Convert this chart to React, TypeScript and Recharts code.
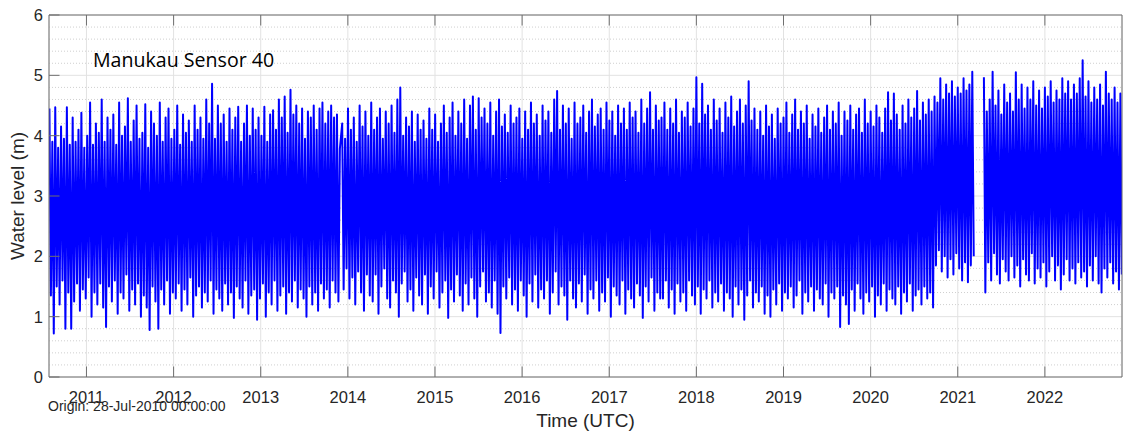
import React from 'react';
import { LineChart, Line, XAxis, YAxis, CartesianGrid } from 'recharts';

// time axis in decimal years, origin 28-Jul-2010
const T_START = 2010.57;
const T_END = 2022.885;
const STEP = 1 / 30; // one high + one low per step

const yearTicks = [2011, 2012, 2013, 2014, 2015, 2016, 2017, 2018, 2019, 2020, 2021, 2022];
const levelTicks = [0, 1, 2, 3, 4, 5, 6];
const minorLevels = [
  0.2, 0.4, 0.6, 0.8, 1.2, 1.4, 1.6, 1.8, 2.2, 2.4, 2.6, 2.8,
  3.2, 3.4, 3.6, 3.8, 4.2, 4.4, 4.6, 4.8, 5.2, 5.4, 5.6, 5.8,
];

// segment A: Jul 2010 -> gap late 2013
const startA = 2010.575;
const highsA = [
  4.45, 3.9, 4.47, 3.8, 4.15, 3.95, 4.47, 3.85, 4.3, 3.9,
  4.1, 4.38, 3.8, 4.0, 4.55, 3.85, 4.2, 4.05, 4.6, 3.9,
  4.3, 4.1, 4.35, 3.85, 4.55, 4.0, 4.15, 4.62, 3.9, 4.25,
  4.5, 3.95, 4.05, 4.52, 3.8, 4.4, 4.2, 4.0, 4.55, 3.9,
  4.3, 4.45, 3.95, 4.1, 4.5, 3.85, 4.35, 4.05, 4.25, 3.9,
  4.5, 4.1, 4.3, 3.95, 4.6, 4.2, 4.86, 3.95, 4.5, 4.2,
  4.35, 3.9, 4.45, 4.1, 4.3, 4.48, 3.9, 4.2, 4.5, 4.0,
  4.45, 4.1, 4.3, 4.0, 4.48, 3.9, 4.35, 4.42, 4.1, 4.6,
  4.3, 4.65, 4.05, 4.76, 4.35, 4.5, 4.2, 4.45, 3.95, 4.4,
  4.3, 4.5, 4.1, 4.45, 4.55, 4.2, 4.4, 4.5, 4.3, 4.35, 3.78,
];
const lowsA = [
  1.35, 0.72, 1.5, 1.2, 1.6, 0.8, 1.4, 0.8, 1.25, 1.55,
  1.1, 1.45, 1.3, 1.65, 1.0, 1.4, 1.2, 1.55, 1.15, 0.83,
  1.5, 1.25, 1.6, 1.05, 1.4, 1.3, 1.7, 1.1, 1.45, 1.2,
  1.55, 1.0, 1.35, 1.15, 0.78, 1.5, 1.25, 0.8, 1.45, 1.2,
  1.6, 1.05, 1.4, 1.3, 1.55, 1.1, 1.45, 1.2, 1.65, 1.0,
  1.35, 1.5, 1.15, 1.4, 1.25, 1.6, 1.05, 1.45, 1.3, 1.1,
  1.55, 1.2, 1.4, 0.98, 1.5, 1.3, 1.15, 1.6, 1.05, 1.35,
  1.45, 0.95, 1.3, 1.55, 1.0, 1.4, 1.2, 1.6, 1.1, 1.35,
  1.5, 1.05, 1.4, 1.25, 1.6, 1.15, 1.45, 1.3, 1.0, 1.5,
  1.2, 1.4, 1.1, 1.55, 1.3, 1.45, 1.15, 1.6, 1.4, 1.25,
];

// segment B1: late 2013 -> mid 2017
const startB1 = 2013.935;
const highsB1 = [
  4.2, 3.95, 4.45, 4.1, 4.3, 3.9, 4.5, 4.15, 4.4, 4.0,
  4.55, 4.1, 4.3, 4.45, 3.95, 4.4, 4.2, 4.5, 4.05, 4.6,
  4.8, 4.0, 4.3, 4.15, 4.4, 3.9, 4.35, 4.1, 4.25, 3.95,
  4.45, 4.1, 4.35, 3.9, 4.2, 4.5, 4.05, 4.3, 4.55, 4.0,
  4.4, 4.2, 4.6, 3.95, 4.5, 4.65, 4.1, 4.62, 4.3, 4.45,
  4.2, 4.55, 4.0, 4.4, 4.6, 4.15, 4.35, 4.05, 4.5, 4.2,
  4.3, 4.45, 3.95, 4.4, 4.1, 4.55, 4.2, 4.35, 4.0, 4.5,
  4.25, 4.4, 4.05, 4.6, 4.74, 4.1, 4.5, 4.2, 4.45, 3.95,
  4.55, 4.2, 4.3, 4.5, 4.05, 4.4, 4.6, 4.15, 4.35, 4.45,
  4.1, 4.55, 4.25, 4.4, 4.0, 4.5, 4.2, 4.45, 4.1, 4.55,
  4.3, 4.4, 4.05, 4.6, 4.2, 4.45, 4.72, 4.1, 4.5, 4.25,
];
const lowsB1 = [
  1.45, 1.8, 1.3, 1.65, 1.2, 1.75, 1.4, 1.1, 1.7, 1.35,
  1.25, 1.7, 1.05, 1.5, 1.8, 1.3, 1.15, 1.6, 1.4, 1.0,
  1.55, 1.75, 1.25, 1.45, 1.1, 1.65, 1.35, 1.2, 1.7, 1.05,
  1.5, 1.3, 1.75, 1.15, 1.4, 1.6, 0.98, 1.45, 1.25, 1.7,
  1.35, 1.1, 1.55, 1.2, 1.65, 1.3, 1.0, 1.5, 1.75, 1.25,
  1.4, 1.15, 1.6, 1.05, 0.73, 1.5, 1.3, 1.65, 1.2, 1.45,
  1.1, 1.6, 1.35, 1.0, 1.55, 1.25, 1.7, 1.15, 1.45, 1.3,
  1.6, 1.05, 1.4, 1.75, 1.2, 1.5, 1.35, 0.95, 1.6, 1.3,
  1.15, 1.55, 1.25, 1.7, 1.05, 1.45, 1.3, 1.6, 1.1, 1.4,
  1.25, 1.65, 1.0, 1.5, 1.35, 1.2, 1.6, 1.05, 1.45, 1.3,
  1.15, 1.55, 1.35, 0.98, 1.5, 1.25, 1.65, 1.1, 1.4, 1.3,
];

// segment B2: mid 2017 -> gap early 2021 (level shift from late 2020)
const startB2 = 2017.6;
const highsB2 = [
  4.3, 4.55, 4.1, 4.45, 4.2, 4.6, 4.05, 4.4, 4.3, 4.55,
  4.15, 4.45, 4.97, 4.2, 4.86, 4.35, 4.5, 4.1, 4.6, 4.25,
  4.45, 4.05, 4.55, 4.3, 4.65, 4.15, 4.4, 4.6, 4.2, 4.5,
  4.9, 4.25, 4.45, 4.1, 4.4, 4.0, 4.5, 4.15, 4.35, 3.95,
  4.45, 4.2, 4.3, 4.55, 4.05, 4.35, 4.6, 4.1, 4.4, 4.2,
  4.5, 3.95, 4.35, 4.15, 4.45, 4.05, 4.3, 4.5, 4.1, 4.4,
  4.2, 4.55, 4.0, 4.4, 4.25, 4.5, 4.1, 4.35, 4.45, 4.05,
  4.6, 4.2, 4.4, 4.15, 4.5, 4.3, 4.05, 4.45, 4.72, 4.25,
  4.7, 4.35, 4.1, 4.5, 4.2, 4.6, 4.3, 4.45, 4.74, 4.25,
  4.55, 4.35, 4.6, 4.4, 4.65, 4.55, 4.95, 4.6, 4.85, 4.7,
  4.9, 4.65, 4.8, 4.7, 4.95, 4.75, 4.85, 5.06,
];
const lowsB2 = [
  1.3, 1.6, 1.15, 1.45, 1.05, 1.55, 1.25, 1.4, 1.1, 1.6,
  1.35, 1.2, 1.5, 1.05, 1.45, 1.3, 1.6, 1.15, 1.4, 1.25,
  1.55, 1.1, 1.4, 1.3, 1.0, 1.5, 1.2, 1.45, 0.95, 1.35,
  1.6, 1.15, 1.4, 1.25, 1.5, 1.05, 1.35, 1.0, 1.45, 1.2,
  1.55, 1.1, 1.4, 1.3, 1.5, 1.15, 1.35, 1.6, 1.05, 1.4,
  1.25, 1.5, 1.1, 1.45, 1.3, 1.2, 1.55, 1.0, 1.4, 1.3,
  1.5, 0.83, 1.35, 1.2, 0.88, 1.45, 1.1, 1.55, 1.3, 1.05,
  1.4, 1.25, 1.5, 1.0, 1.35, 1.2, 1.55, 1.1, 1.45, 1.3,
  1.2, 1.5, 1.05, 1.4, 1.25, 1.55, 1.1, 1.35, 1.45, 1.2,
  1.5, 1.3, 1.4, 1.15, 1.85, 2.1, 1.75, 2.0, 1.65, 1.95,
  1.7, 2.05, 1.8, 1.6, 1.9, 1.57, 1.85, 2.0,
];

// gap in the record, early 2021
const gapTime = 2021.24;

// segment C: 2021 -> end
const startC = 2021.3;
const highsC = [
  4.97, 4.4, 4.6, 5.06, 4.5, 4.75, 4.35, 4.85, 4.55, 4.7,
  4.4, 5.05, 4.6, 4.85, 4.45, 4.8, 4.6, 4.9, 4.5, 4.75,
  4.45, 4.8, 4.65, 4.9, 4.55, 4.75, 4.6, 4.95, 4.7, 4.9,
  4.6, 4.85, 4.7, 4.95, 5.25, 4.65, 4.9, 4.55, 4.8, 4.6,
  4.85, 4.5, 5.06, 4.7, 4.6, 4.8, 4.55, 4.7,
];
const lowsC = [
  1.4, 1.9, 1.6, 2.05, 1.7, 1.55, 1.95, 1.75, 1.6, 2.0,
  1.65, 1.85, 1.5, 1.95, 1.7, 1.6, 2.05, 1.55, 1.8, 1.65,
  1.9, 1.5, 1.75, 2.0, 1.6, 1.85, 1.45, 1.7, 1.95, 1.6,
  1.8, 1.55, 1.9, 1.65, 1.75, 1.5, 1.85, 1.6, 2.0, 1.55,
  1.4, 1.8, 1.65, 1.9, 1.55, 1.75, 1.45, 1.7,
];

const buildSegment = (start: number, highs: number[], lows: number[]) => {
  const pts: { t: number; level: number | null }[] = [];
  highs.forEach((h, i) => {
    pts.push({ t: start + i * STEP, level: h });
    if (i < lows.length) pts.push({ t: start + (i + 0.5) * STEP, level: lows[i] });
  });
  return pts;
};

const data = [
  ...buildSegment(startA, highsA, lowsA),
  ...buildSegment(startB1, highsB1, lowsB1),
  ...buildSegment(startB2, highsB2, lowsB2),
  { t: gapTime, level: null },
  ...buildSegment(startC, highsC, lowsC),
];

const W = 1123;
const H = 432;
const AXIS_COLOR = '#6f6f6f';
const TEXT_COLOR = '#262626';
const FONT = '"Liberation Sans", Arial, Helvetica, sans-serif';
const TICK_LEN = 10.5;

const BottomTick = (props: any) => {
  const { x, y, payload } = props;
  return (
    <g>
      <line x1={x} y1={y} x2={x} y2={y - TICK_LEN} stroke={AXIS_COLOR} />
      <text x={x} y={y + 26} textAnchor="middle" fontSize={16.5} fontFamily={FONT} fill={TEXT_COLOR}>
        {payload.value}
      </text>
    </g>
  );
};

const TopTick = (props: any) => {
  const { x, y } = props;
  return <line x1={x} y1={y} x2={x} y2={y + TICK_LEN} stroke={AXIS_COLOR} />;
};

const LeftTick = (props: any) => {
  const { x, y, payload } = props;
  return (
    <g>
      <line x1={x} y1={y} x2={x + TICK_LEN} y2={y} stroke={AXIS_COLOR} />
      <text x={x - 6} y={y + 6} textAnchor="end" fontSize={16.5} fontFamily={FONT} fill={TEXT_COLOR}>
        {payload.value}
      </text>
    </g>
  );
};

const RightTick = (props: any) => {
  const { x, y } = props;
  return <line x1={x} y1={y} x2={x - TICK_LEN} y2={y} stroke={AXIS_COLOR} />;
};

export default function App() {
  return (
    <div style={{ position: 'relative', width: W, height: H, background: '#fff' }}>
      <style>{`body { margin: 0; }`}</style>
      <LineChart width={W} height={H} data={data} margin={{ top: 14, right: 0, bottom: 25, left: 0 }}>
        <CartesianGrid
          horizontalValues={minorLevels}
          vertical={false}
          stroke="#cfcfcf"
          strokeDasharray="1 2"
        />
        <CartesianGrid stroke="#e2e2e2" />
        <XAxis
          dataKey="t"
          type="number"
          scale="linear"
          domain={[T_START, T_END]}
          allowDataOverflow
          ticks={yearTicks}
          interval={0}
          height={30}
          tickSize={0}
          tickMargin={0}
          tick={BottomTick}
          axisLine={{ stroke: AXIS_COLOR }}
        />
        <XAxis
          xAxisId="top"
          orientation="top"
          dataKey="t"
          type="number"
          scale="linear"
          domain={[T_START, T_END]}
          allowDataOverflow
          ticks={yearTicks}
          interval={0}
          height={1}
          tickSize={0}
          tickMargin={0}
          tick={TopTick}
          axisLine={{ stroke: AXIS_COLOR }}
        />
        <YAxis
          type="number"
          domain={[0, 6]}
          ticks={levelTicks}
          interval={0}
          width={49}
          tickSize={0}
          tickMargin={0}
          tick={LeftTick}
          axisLine={{ stroke: AXIS_COLOR }}
        />
        <YAxis
          yAxisId="right"
          orientation="right"
          type="number"
          domain={[0, 6]}
          ticks={levelTicks}
          interval={0}
          width={1}
          tickSize={0}
          tickMargin={0}
          tick={RightTick}
          axisLine={{ stroke: AXIS_COLOR }}
        />
        <Line
          dataKey="level"
          stroke="#0000ff"
          strokeWidth={2}
          strokeLinejoin="round"
          dot={false}
          activeDot={false}
          isAnimationActive={false}
          connectNulls={false}
        />
      </LineChart>
      <svg
        width={W}
        height={H}
        style={{ position: 'absolute', top: 0, left: 0, pointerEvents: 'none' }}
      >
        <text x={93} y={67} fontSize={19.6} fontFamily='"Open Sans", Lato, sans-serif' fill="#000">
          Manukau Sensor 40
        </text>
        <text
          transform="translate(24,196) rotate(-90)"
          textAnchor="middle"
          fontSize={19}
          fontFamily={FONT}
          fill={TEXT_COLOR}
        >
          Water level (m)
        </text>
        <text x={585.5} y={427} textAnchor="middle" fontSize={19} fontFamily={FONT} fill={TEXT_COLOR}>
          Time (UTC)
        </text>
        <text x={48} y={411} fontSize={14} fontFamily={FONT} fill={TEXT_COLOR}>
          Origin: 28-Jul-2010 00:00:00
        </text>
      </svg>
    </div>
  );
}
